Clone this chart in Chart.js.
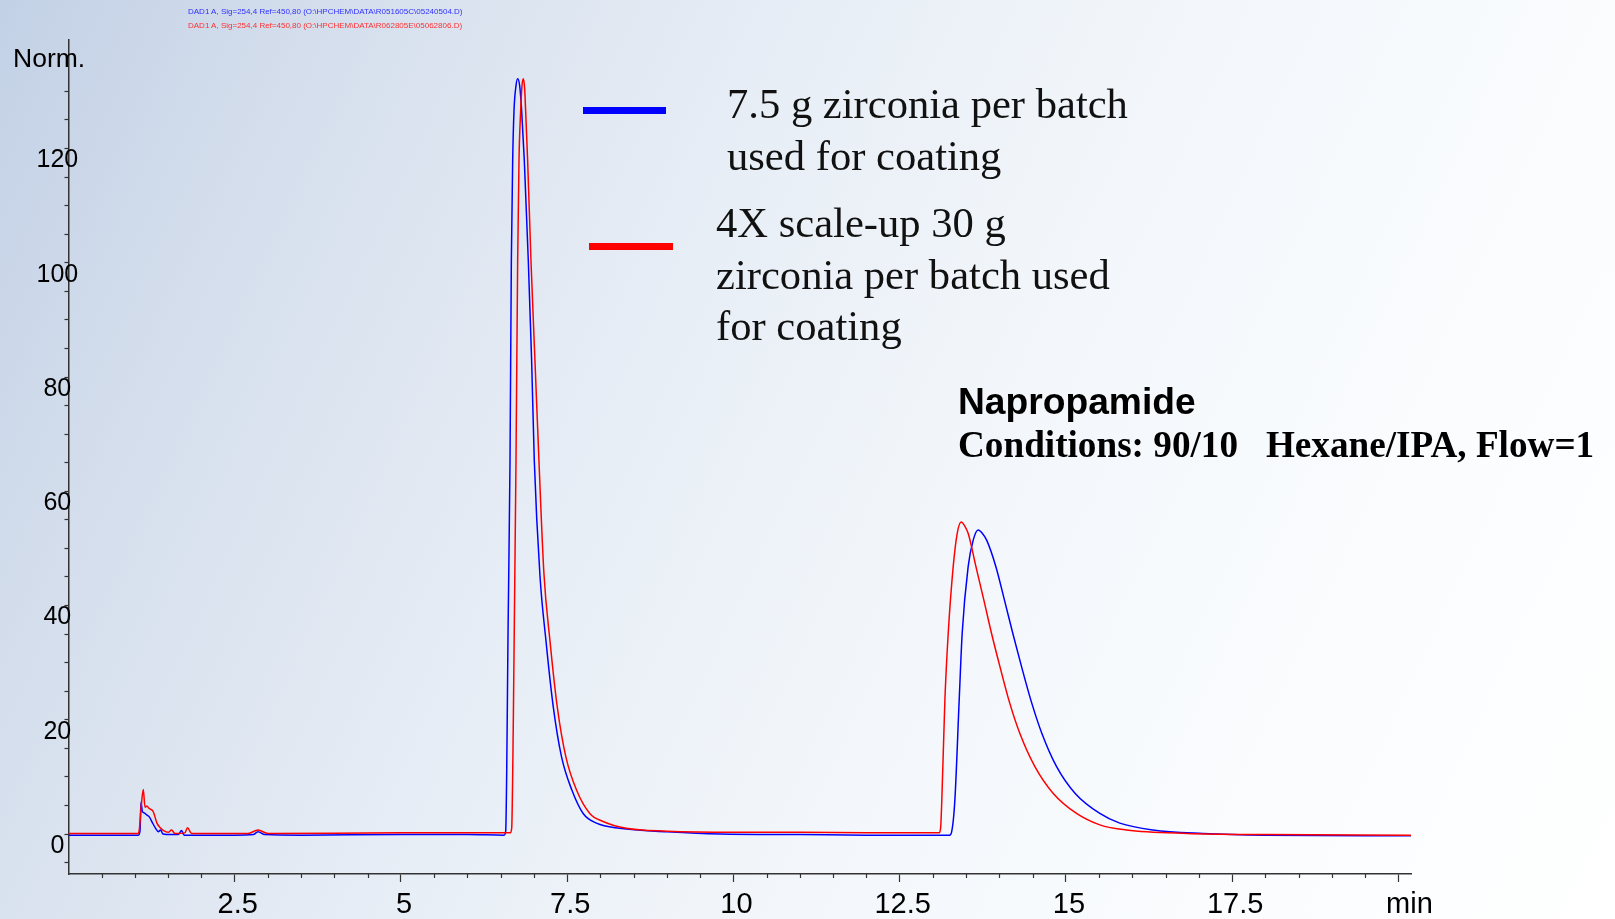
<!DOCTYPE html>
<html>
<head>
<meta charset="utf-8">
<title>Napropamide chromatogram</title>
<script src="https://cdn.jsdelivr.net/npm/chart.js@4.4.1/dist/chart.umd.min.js"></script>
<style>
  body { margin: 0; }
  #wrap {
    position: relative; width: 1615px; height: 919px; overflow: hidden;
    background: linear-gradient(115deg, #c3d1e6 0%, #d8e1ee 20%, #e8eef6 40%, #f3f7fb 60%, #fafcfe 80%, #ffffff 100%);
  }
  #chromChart { position: absolute; left: 0; top: 0; }
  .txt { position: absolute; white-space: pre; margin: 0; }
  .hdr { font: 8px "Liberation Sans", Arial, sans-serif; line-height: 10px; left: 188px; }
  .leg { font: 42.6px "Liberation Serif", "Times New Roman", serif; line-height: 51.5px; color: #111; }
  .bar { position: absolute; height: 7px; }
</style>
</head>
<body>
<div id="wrap">
  <canvas id="chromChart" width="1615" height="919"></canvas>

  <div class="txt hdr" style="top:7px; color:#3030ff;">DAD1 A, Sig=254,4 Ref=450,80 (O:\HPCHEM\DATA\R051605C\05240504.D)</div>
  <div class="txt hdr" style="top:21px; color:#ff3030;">DAD1 A, Sig=254,4 Ref=450,80 (O:\HPCHEM\DATA\R062805E\05062806.D)</div>

  <div class="txt" style="left:13px; top:43px; font:26.5px 'Liberation Sans', Arial, sans-serif; line-height:30px; color:#000;">Norm.</div>

  <div class="bar" style="left:583px; top:107px; width:83px; background:#0000ff;"></div>
  <div class="txt leg" style="left:727px; top:78px;">7.5 g zirconia per batch
used for coating</div>

  <div class="bar" style="left:589px; top:243px; width:84px; background:#ff0000;"></div>
  <div class="txt leg" style="left:716px; top:197px;">4X scale-up 30 g
zirconia per batch used
for coating</div>

  <div class="txt" style="left:958px; top:381px; font:bold 37.2px 'Liberation Sans', Arial, sans-serif; line-height:40px; color:#000;">Napropamide</div>
  <div class="txt" style="left:958px; top:424px; font:bold 37.2px 'Liberation Serif', 'Times New Roman', serif; line-height:42px; color:#000;">Conditions: 90/10   Hexane/IPA, Flow=1</div>
</div>

<script>
// retention time (min) and signal (Norm.), blue run
const blueTimes = [0, 1.05, 1.075, 1.09, 1.11, 1.14, 1.18, 1.215, 1.265, 1.31, 1.35, 1.385, 1.42, 1.55, 1.65, 1.70, 1.74,
  2.5, 2.78, 2.85, 2.95, 3.5, 5.0, 6.0, 6.55, 6.575, 6.59, 6.61, 6.64, 6.66, 6.68, 6.70, 6.73, 6.755, 6.785, 6.815,
  6.855, 6.915, 6.965, 7.005, 7.09, 7.18, 7.29, 7.415, 7.57, 7.74, 7.94, 8.29, 9.0, 9.8, 11.0, 12.0, 13.25, 13.28,
  13.33, 13.395, 13.44, 13.53, 13.605, 13.68, 13.745, 13.81, 13.947, 14.077, 14.202, 14.333, 14.474, 14.639, 14.86, 15.14,
  15.51, 15.81, 16.31, 17.06, 18.0, 20.19];
const blueValues = [-0.2, -0.2, 0.5, 5.6, 4.0, 3.7, 3.3, 3.0, 1.9, 1.0, 0.4, 0.7, 0.0, -0.1, -0.1, 0.6, -0.2,
  -0.2, -0.1, 0.4, -0.1, -0.2, -0.1, -0.1, -0.2, 0.5, 10.7, 35, 65.4, 100.4, 117.9, 126.6, 131.0, 132.2, 131.0, 126.6,
  117.9, 100.4, 82.9, 65.4, 45.3, 33.9, 22.3, 13.5, 7.7, 3.6, 1.9, 1.0, 0.4, 0.0, -0.1, -0.2, -0.2, 0.3,
  5.9, 23.4, 35.1, 46.8, 51.4, 53.2, 52.6, 51.4, 46.8, 40.9, 35.1, 29.3, 23.4, 17.6, 11.8, 7.1,
  3.6, 1.9, 0.7, 0.1, -0.2, -0.3];

// red run (4X scale-up)
const redTimes = [0, 1.05, 1.065, 1.095, 1.125, 1.15, 1.18, 1.21, 1.275, 1.33, 1.38, 1.43, 1.5, 1.55, 1.6, 1.75, 1.79,
  1.85, 2.7, 2.85, 3.0, 5.0, 6.0, 6.64, 6.665, 6.69, 6.73, 6.755, 6.775, 6.80, 6.82, 6.84, 6.86, 6.875, 6.905, 6.955,
  7.015, 7.075, 7.15, 7.24, 7.35, 7.48, 7.64, 7.84, 8.04, 8.39, 9.0, 10.0, 11.0, 12.0, 13.09, 13.115, 13.15, 13.18,
  13.23, 13.305, 13.365, 13.425, 13.475, 13.531, 13.647, 13.767, 13.882, 14.008, 14.143, 14.308, 14.534, 14.81, 15.16, 15.51,
  15.91, 16.82, 18.0, 20.19];
const redValues = [0.1, 0.1, 0.8, 5.0, 7.8, 4.7, 4.9, 4.5, 3.9, 1.9, 1.1, 0.6, 0.3, 0.7, 0.1, 0.2, 1.1,
  0.1, 0.1, 0.7, 0.1, 0.2, 0.2, 0.2, 1.0, 20, 65.4, 100.4, 117.9, 126.6, 131.0, 132.2, 130.5, 126.6, 117.9, 100.4,
  82.9, 65.4, 45.6, 33.9, 22.3, 13.5, 7.7, 3.6, 2.2, 1.0, 0.5, 0.3, 0.3, 0.2, 0.2, 1.0, 12, 23.4,
  35.1, 46.8, 52.6, 54.6, 54.0, 52.6, 46.8, 40.9, 35.1, 29.3, 23.4, 17.6, 11.8, 7.1, 3.6, 1.6,
  0.7, 0.1, -0.1, -0.2];

const xTickLabels = [2.5, 5, 7.5, 10, 12.5, 15, 17.5];
const xUnitAt = 20;          // the "min" label sits on the 20 tick
const yTickLabels = [0, 20, 40, 60, 80, 100, 120];

const axisColor = '#333333';

function toPoints(times, values) {
  return times.map((t, i) => ({ x: t, y: values[i] }));
}

function isMultiple(v, step) {
  return Math.abs(v / step - Math.round(v / step)) < 1e-6;
}

// short minor ticks every 0.5 min under the x axis
const minorTicks = {
  id: 'minorTicks',
  afterDraw(chart) {
    const xs = chart.scales.x;
    const ctx = chart.ctx;
    ctx.save();
    ctx.strokeStyle = axisColor;
    ctx.lineWidth = 1.2;
    for (let v = 0.5; v <= 20.01; v += 0.5) {
      if (isMultiple(v, 2.5)) continue;
      const px = Math.round(xs.getPixelForValue(v)) + 0.5;
      ctx.beginPath();
      ctx.moveTo(px, xs.top);
      ctx.lineTo(px, xs.top + 4);
      ctx.stroke();
    }
    ctx.restore();
  }
};

const ctx = document.getElementById('chromChart').getContext('2d');
new Chart(ctx, {
  type: 'line',
  data: {
    datasets: [
      {
        label: '4X scale-up 30 g zirconia per batch used for coating',
        data: toPoints(redTimes, redValues),
        borderColor: '#ff0000',
        borderWidth: 1.5,
        pointRadius: 0,
        cubicInterpolationMode: 'monotone',
        fill: false
      },
      {
        label: '7.5 g zirconia per batch used for coating',
        data: toPoints(blueTimes, blueValues),
        borderColor: '#0000ff',
        borderWidth: 1.5,
        pointRadius: 0,
        cubicInterpolationMode: 'monotone',
        fill: false
      }
    ]
  },
  options: {
    responsive: false,
    animation: false,
    layout: { padding: { top: 40, right: 204, left: 0, bottom: 0 } },
    plugins: { legend: { display: false }, tooltip: { enabled: false } },
    scales: {
      x: {
        type: 'linear',
        min: 0,
        max: 20.19,
        afterFit: (scale) => { scale.height = 45; },
        afterBuildTicks: (scale) => {
          scale.ticks = scale.ticks.filter(t => t.value > 0 && isMultiple(t.value, 2.5));
        },
        border: { display: true, color: axisColor, width: 1.5 },
        grid: { drawOnChartArea: false, drawTicks: true, tickLength: 8, tickColor: axisColor, tickWidth: 1.2 },
        ticks: {
          stepSize: 2.5,
          includeBounds: false,
          padding: 6,
          labelOffset: 3,
          maxRotation: 0,
          autoSkip: false,
          color: '#000',
          font: { family: "'Liberation Sans', Arial, sans-serif", size: 29 },
          callback: (v) => v === xUnitAt ? '  min' : (xTickLabels.includes(v) ? String(v) : '')
        }
      },
      y: {
        min: -7,
        max: 139,
        afterFit: (scale) => { scale.width = 68.5; },
        afterBuildTicks: (scale) => {
          scale.ticks = scale.ticks.filter(t => t.value >= -5 && t.value <= 130 && isMultiple(t.value, 5));
        },
        border: { display: true, color: axisColor, width: 1.5 },
        grid: { drawOnChartArea: false, drawTicks: true, tickLength: 4, tickColor: axisColor, tickWidth: 1.2 },
        ticks: {
          stepSize: 5,
          includeBounds: false,
          // mirrored so the labels may run over the axis line like the original
          mirror: true,
          padding: -32,
          labelOffset: 12,
          crossAlign: 'center',
          autoSkip: false,
          color: '#000',
          font: { family: "'Liberation Sans', Arial, sans-serif", size: 25 },
          callback: (v) => yTickLabels.includes(v) ? String(v) : ''
        }
      }
    }
  },
  plugins: [minorTicks]
});
</script>
</body>
</html>
